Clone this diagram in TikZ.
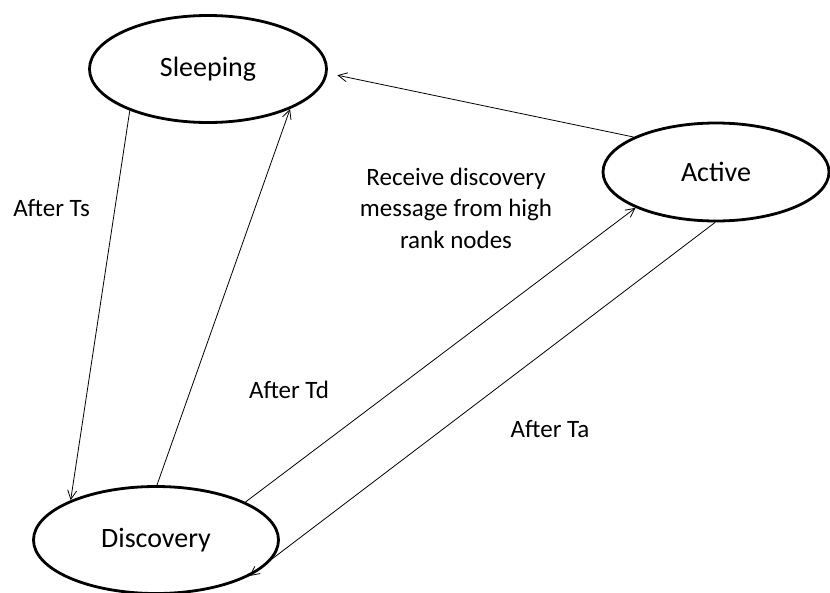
\documentclass[tikz,border=0pt]{standalone}
\usepackage{fontspec}
\setmainfont{Carlito}
\usetikzlibrary{shapes.geometric,arrows.meta}
\begin{document}
\begin{tikzpicture}[x=1pt,y=-1pt,
  state/.style={ellipse,draw,line width=2.8pt,inner sep=0pt,font=\fontsize{28}{34}\selectfont},
  conn/.style={line width=0.8pt,-{Straight Barb[length=9pt,width=9pt,line width=0.8pt]}},
  lbl/.style={font=\fontsize{25}{31.5}\selectfont,inner sep=0pt,align=center}]
\useasboundingbox (0,0) rectangle (830,592);
\node[state,minimum width=237pt,minimum height=107pt] (sleep) at (208,69) {Sleeping};
\node[state,minimum width=226pt,minimum height=98pt] (active) at (716,172) {Active};
\node[state,minimum width=245pt,minimum height=107pt] (disc) at (156,540) {Discovery};
\draw[conn] (sleep.208.5) -- (disc.155.6);
\draw[conn] (disc.89) -- (sleep.334.3);
\draw[conn,shorten >=10pt] (active.157.9) -- (sleep.358);
\draw[conn] (disc.23.1) -- (active.204);
\draw[conn] (active.269) -- (disc.339.7);
\node[lbl,anchor=base] (ts) at (51.5,216) {After Ts};
\node[lbl,anchor=base] (td) at (289,398) {After Td};
\node[lbl,anchor=base] (ta) at (550,437) {After Ta};
\node[lbl,anchor=base] (rcv) at (456,248) {Receive discovery\\message from high\\rank nodes};
\end{tikzpicture}
\end{document}
